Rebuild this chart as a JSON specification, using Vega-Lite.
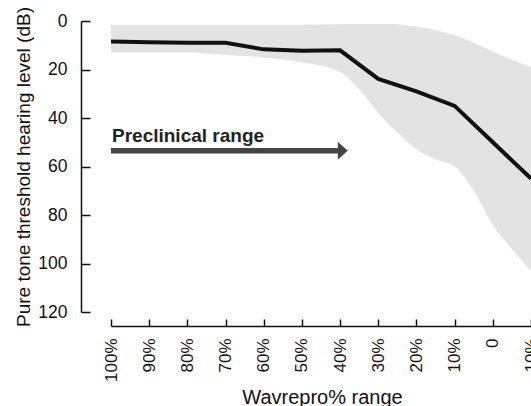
{
  "$schema": "https://vega.github.io/schema/vega-lite/v6.json",
  "width": 420,
  "height": 291,
  "autosize": {"type": "none"},
  "padding": {"left": 111, "top": 21, "right": 0, "bottom": 94},
  "background": "white",
  "config": {
    "view": {"stroke": null},
    "font": "Liberation Sans",
    "axis": {
      "domainColor": "#111",
      "domainWidth": 1.5,
      "tickColor": "#111",
      "tickWidth": 1.5,
      "labelColor": "#111",
      "titleColor": "#111",
      "titleFontWeight": "normal",
      "grid": false,
      "labelOverlap": false,
      "labelFont": "Liberation Sans",
      "titleFont": "Liberation Sans"
    }
  },
  "datasets": {
    "band": [
      {"pct": 100, "db": 1.5, "db2": 13},
      {"pct": 90, "db": 1.5, "db2": 13},
      {"pct": 80, "db": 1.5, "db2": 13},
      {"pct": 70, "db": 1.5, "db2": 14},
      {"pct": 60, "db": 1.5, "db2": 15},
      {"pct": 50, "db": 1.5, "db2": 17},
      {"pct": 40, "db": 1.3, "db2": 21},
      {"pct": 35, "db": 1.2, "db2": 28},
      {"pct": 30, "db": 1.2, "db2": 38},
      {"pct": 25, "db": 1.3, "db2": 46},
      {"pct": 20, "db": 2.3, "db2": 53},
      {"pct": 15, "db": 3.8, "db2": 57},
      {"pct": 10, "db": 5.8, "db2": 60},
      {"pct": 5, "db": 9, "db2": 70},
      {"pct": 0, "db": 12.6, "db2": 84},
      {"pct": -5, "db": 16, "db2": 94},
      {"pct": -10, "db": 19, "db2": 103}
    ],
    "curve": [
      {"pct": 100, "db": 8.5},
      {"pct": 90, "db": 8.8},
      {"pct": 80, "db": 9},
      {"pct": 70, "db": 9},
      {"pct": 60, "db": 11.7},
      {"pct": 50, "db": 12.3},
      {"pct": 40, "db": 12.1},
      {"pct": 30, "db": 23.9},
      {"pct": 20, "db": 29},
      {"pct": 10, "db": 35},
      {"pct": 0, "db": 50},
      {"pct": -10, "db": 65}
    ],
    "arrow": [
      {"pct": 100, "pct2": 39.5, "db": 53.5, "label": "Preclinical range", "ldb": 49.8, "head": 39.3}
    ]
  },
  "layer": [
    {
      "data": {"name": "band"},
      "mark": {"type": "area", "color": "#e3e3e3", "interpolate": "monotone"},
      "encoding": {
        "x": {
          "field": "pct", "type": "quantitative",
          "scale": {"domain": [-10, 100], "reverse": true, "nice": false, "zero": false},
          "axis": {
            "title": "Wavrepro% range",
            "values": [100, 90, 80, 70, 60, 50, 40, 30, 20, 10, 0, -10],
            "tickCount": 30,
            "labelExpr": "datum.value === 0 ? '0' : (datum.value + '%')",
            "labelAngle": -90,
            "labelFontSize": 17,
            "labelFlush": false,
            "labelOverlap": false,
            "labelBound": false,
            "tickSize": -7,
            "labelPadding": 19,
            "offset": 14,
            "titleFontSize": 20,
            "titleX": 211,
            "titleY": 77,
            "titleBaseline": "alphabetic",
            "titleAlign": "center"
          }
        },
        "y": {
          "field": "db", "type": "quantitative",
          "scale": {"domain": [0, 120], "reverse": true, "nice": false},
          "axis": {
            "title": "Pure tone threshold hearing level (dB)",
            "values": [0, 20, 40, 60, 80, 100, 120],
            "tickCount": 20,
            "labelFontSize": 17.5,
            "labelOverlap": false,
            "tickSize": -9,
            "labelPadding": 23,
            "offset": 30,
            "titleFontSize": 19,
            "titleX": -58,
            "titleY": 145.5,
            "titleAngle": -90,
            "titleBaseline": "middle",
            "titleAlign": "center"
          }
        },
        "y2": {"field": "db2"}
      }
    },
    {
      "data": {"name": "arrow"},
      "mark": {"type": "rule", "color": "#444", "strokeWidth": 5.5},
      "encoding": {
        "x": {"field": "pct", "type": "quantitative"},
        "x2": {"field": "pct2"},
        "y": {"field": "db", "type": "quantitative"}
      }
    },
    {
      "data": {"name": "arrow"},
      "mark": {"type": "point", "shape": "M-0.55,-1L0.55,0L-0.55,1Z", "filled": true, "color": "#444", "opacity": 1, "size": 324},
      "encoding": {
        "x": {"field": "head", "type": "quantitative"},
        "y": {"field": "db", "type": "quantitative"}
      }
    },
    {
      "data": {"name": "arrow"},
      "mark": {"type": "text", "align": "left", "baseline": "alphabetic", "fontSize": 19, "fontWeight": "bold", "color": "#222", "dx": 1},
      "encoding": {
        "x": {"field": "pct", "type": "quantitative"},
        "y": {"field": "ldb", "type": "quantitative"},
        "text": {"field": "label"}
      }
    },
    {
      "data": {"name": "curve"},
      "mark": {"type": "line", "color": "#111", "strokeWidth": 4, "strokeJoin": "miter"},
      "encoding": {
        "x": {"field": "pct", "type": "quantitative"},
        "y": {"field": "db", "type": "quantitative"}
      }
    }
  ]
}
